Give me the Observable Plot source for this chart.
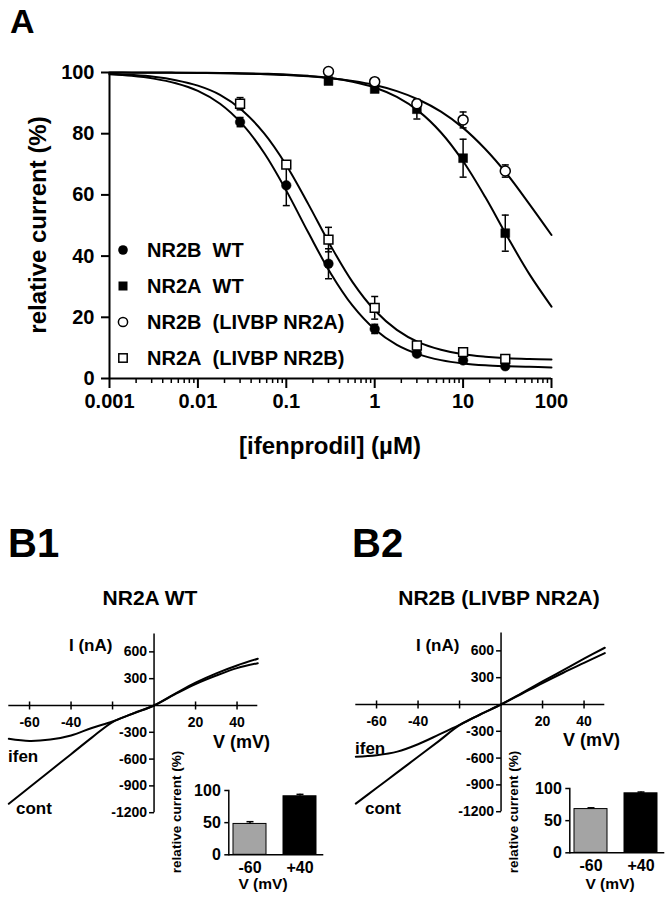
<!DOCTYPE html>
<html><head><meta charset="utf-8">
<script src="https://cdn.jsdelivr.net/npm/d3@7"></script>
<script src="https://cdn.jsdelivr.net/npm/@observablehq/plot@0.6"></script>
<style>
body{margin:0;background:#fff;}
#fig{position:relative;width:671px;height:900px;background:#fff;overflow:hidden;}
#fig > svg{position:absolute;max-width:none;}
</style></head><body><div id="fig"></div>
<script>
const FONT = '"Liberation Sans", Arial, Helvetica, sans-serif';

// ---------- Panel A data ----------
const concs = [0.03, 0.1, 0.3, 1, 3, 10, 30];
const nr2bWT = [83.8, 63.1, 37.5, 16.2, 8.1, 5.9, 4.0];
const nr2bWTErr = [1.5, 6.6, 4.9, 1.5, 0.8, 0.6, 0.5];
const nr2aChim = [89.8, 69.9, 45.4, 23.1, 10.8, 8.6, 6.4];
const nr2aChimErr = [2.0, 1.0, 4.0, 3.7, 1.0, 0.8, 0.5];
const concsHigh = [0.3, 1, 3, 10, 30];
const nr2aWT = [97.2, 94.6, 88.0, 72.0, 47.5];
const nr2aWTErr = [1.0, 1.0, 3.2, 6.2, 5.9];
const nr2bChim = [100.3, 97.0, 89.8, 84.5, 67.8];
const nr2bChimErr = [0.5, 0.5, 1.2, 2.6, 2.0];

// fitted curves
const fitConc = [0.001, 0.00178, 0.00316, 0.00562, 0.01, 0.0178, 0.0316, 0.0562, 0.1, 0.178, 0.316, 0.562, 1, 1.78, 3.16, 5.62, 10, 17.8, 31.6, 56.2, 100];
const fitNR2BWT = [99.4, 98.9, 98.0, 96.5, 94.0, 89.8, 83.2, 73.7, 61.4, 47.6, 34.5, 23.8, 16.1, 11.0, 7.9, 6.0, 4.9, 4.3, 4.0, 3.8, 3.6];
const fitNR2AChim = [99.6, 99.2, 98.6, 97.5, 95.7, 92.7, 87.7, 80.1, 69.7, 56.9, 43.5, 31.5, 22.3, 15.9, 11.8, 9.4, 7.9, 7.1, 6.6, 6.35, 6.2];
const fitNR2AWT = [100, 100, 100, 99.95, 99.9, 99.86, 99.77, 99.6, 99.36, 98.9, 98.2, 97.0, 95.1, 92.0, 87.3, 80.4, 71.0, 59.3, 46.4, 34.1, 23.5];
const fitNR2BChim = [100, 99.95, 99.93, 99.89, 99.84, 99.75, 99.63, 99.45, 99.17, 98.75, 98.14, 97.2, 95.9, 93.9, 91.1, 87.2, 81.9, 75.0, 66.7, 57.0, 46.9];

const yTicksA = [0, 20, 40, 60, 80, 100];
const xMajorTicks = [0.001, 0.01, 0.1, 1, 10, 100];
const xMajorLabels = ["0.001", "0.01", "0.1", "1", "10", "100"];
const xMinorTicks = [0.002,0.003,0.004,0.005,0.006,0.007,0.008,0.009,
  0.02,0.03,0.04,0.05,0.06,0.07,0.08,0.09, 0.2,0.3,0.4,0.5,0.6,0.7,0.8,0.9,
  2,3,4,5,6,7,8,9, 20,30,40,50,60,70,80,90];
const legendNames = ["NR2B\u00a0 WT", "NR2A\u00a0 WT", "NR2B\u00a0 (LIVBP NR2A)", "NR2A\u00a0 (LIVBP NR2B)"];

// ---------- Panel B data ----------
const ivV = [-70, -60, -50, -40, -30, -20, -10, 0, 10, 20, 30, 40, 50];
const b1Cont = [-1100, -915, -730, -545, -360, -185, -90, 0, 130, 256, 360, 448, 523];
const b1Ifen = [-373, -398, -382, -336, -252, -180, -88, 0, 124, 240, 335, 418, 473];
const b2Cont = [-1110, -935, -760, -585, -410, -232, -112, 0, 128, 258, 385, 512, 635];
const b2Ifen = [-585, -568, -528, -445, -338, -228, -110, 0, 120, 240, 355, 465, 575];
const ivXTicks = [-60, -40, -20, 20, 40];
const ivXLabels = [-60, -40, 20, 40];
const ivYTicks = [600, 300, -300, -600, -900, -1200];

const barCats = ["-60", "+40"];
const barFills = ["#a4a4a4", "#000000"];
const b1Bars = [48, 91];
const b1BarErr = [3.5, 3];
const b2Bars = [68, 92.5];
const b2BarErr = [2, 2];

// ---------- helpers ----------
const hline = {draw(ctx, size){const w = Math.sqrt(size/Math.PI); ctx.moveTo(-w,0); ctx.lineTo(w,0);}};
const vline = {draw(ctx, size){const w = Math.sqrt(size/Math.PI); ctx.moveTo(0,-w); ctx.lineTo(0,w);}};
const baseStyle = {fontFamily: FONT, fontWeight: "bold", background: "transparent", color: "black", overflow: "visible"};
const fig = document.getElementById("fig");
function place(el, left, top){ el.style.left = left + "px"; el.style.top = top + "px"; fig.appendChild(el); }

// ---------- Panel A ----------
const pts = [];
function addPts(name, xs, ys, es){ xs.forEach((c,i)=>pts.push({s:name, c, v:ys[i], e:es[i]})); }
addPts("nr2aWT", concsHigh, nr2aWT, nr2aWTErr);
addPts("nr2bChim", concsHigh, nr2bChim, nr2bChimErr);
addPts("nr2bWT", concs, nr2bWT, nr2bWTErr);
addPts("nr2aChim", concs, nr2aChim, nr2aChimErr);
const fits = [];
[["a",fitNR2BWT],["b",fitNR2AChim],["c",fitNR2AWT],["d",fitNR2BChim]].forEach(([k,arr]) =>
  fitConc.forEach((c,i)=>fits.push({s:k, c, v:arr[i]})));
const labelMap = new Map(xMajorTicks.map((t,i)=>[t, xMajorLabels[i]]));
const sel = s => pts.filter(d => d.s === s);

const plotA = Plot.plot({
  width: 671, height: 420,
  marginLeft: 109, marginRight: 120, marginTop: 72, marginBottom: 42,
  x: {type: "log", domain: [0.001, 100]},
  y: {domain: [0, 100]},
  style: baseStyle,
  marks: [
    Plot.ruleX([0.001], {y1: 0, y2: 100, strokeWidth: 2}),
    Plot.ruleY([0], {x1: 0.001, x2: 100, strokeWidth: 2}),
    Plot.axisY({ticks: yTicksA, tickSize: 8, tickPadding: 7, tickFormat: d => String(d), fontSize: 20, fontWeight: "bold", strokeWidth: 2, label: null}),
    Plot.axisX({ticks: xMinorTicks, tickSize: 5, tickFormat: () => "", strokeWidth: 1.5, label: null}),
    Plot.axisX({ticks: xMajorTicks, tickSize: 10, tickPadding: 5, tickFormat: d => labelMap.get(d), fontSize: 20, fontWeight: "bold", strokeWidth: 2, label: null}),
    Plot.line(fits, {x: "c", y: "v", z: "s", curve: "catmull-rom", strokeWidth: 2}),
    Plot.ruleX(pts, {x: "c", y1: d => d.v - d.e, y2: d => d.v + d.e, strokeWidth: 1.5}),
    Plot.dot(pts, {x: "c", y: d => d.v + d.e, symbol: hline, r: 3.5, fill: "none", stroke: "black", strokeWidth: 1.5}),
    Plot.dot(pts, {x: "c", y: d => d.v - d.e, symbol: hline, r: 3.5, fill: "none", stroke: "black", strokeWidth: 1.5}),
    Plot.dot(sel("nr2aWT"), {x: "c", y: "v", symbol: "square", r: 5, fill: "black", stroke: "black", strokeWidth: 0.5}),
    Plot.dot(sel("nr2bChim"), {x: "c", y: "v", symbol: "circle", r: 5, fill: "white", stroke: "black", strokeWidth: 1.5}),
    Plot.dot(sel("nr2bWT"), {x: "c", y: "v", symbol: "circle", r: 4.8, fill: "black", stroke: "black", strokeWidth: 0.5}),
    Plot.dot(sel("nr2aChim"), {x: "c", y: "v", symbol: "square", r: 5, fill: "white", stroke: "black", strokeWidth: 1.5})
  ]
});
place(plotA, 0, 0);

// ---------- Panel B IV plots ----------
function ivPlot(cont, ifen){
  const rows = [...ivV.map((v,i)=>({v, i: cont[i], s: "cont"})), ...ivV.map((v,i)=>({v, i: ifen[i], s: "ifen"}))];
  return Plot.plot({
    width: 300, height: 200,
    marginLeft: 8.3, marginRight: 42.7, marginTop: 13.5, marginBottom: 7.8,
    x: {domain: [-70, 50], axis: null},
    y: {domain: [-1200, 800], axis: null},
    style: baseStyle,
    marks: [
      Plot.ruleY([0], {strokeWidth: 1.5}),
      Plot.ruleX([0], {strokeWidth: 1.5}),
      Plot.dot(ivXTicks, {x: d => d, y: () => 0, symbol: vline, r: 4, fill: "none", stroke: "black", strokeWidth: 1.5}),
      Plot.dot(ivYTicks, {x: () => 0, y: d => d, symbol: hline, r: 2.5, dx: -2.5, fill: "none", stroke: "black", strokeWidth: 1.5}),
      Plot.text(ivXLabels, {x: d => d, y: () => 0, dy: 17, text: d => String(d), fontSize: 14, fontWeight: "bold"}),
      Plot.text(ivYTicks, {x: () => 0, y: d => d, dx: -7, textAnchor: "end", text: d => String(d), fontSize: 14, fontWeight: "bold"}),
      Plot.line(rows, {x: "v", y: "i", z: "s", curve: "catmull-rom", strokeWidth: 2})
    ]
  });
}
place(ivPlot(b1Cont, b1Ifen), 0, 620);
place(ivPlot(b2Cont, b2Ifen), 346.7, 619);

// ---------- Insets ----------
function barPlot(vals, errs){
  const rows = barCats.map((c,i)=>({c, v: vals[i], e: errs[i]}));
  return Plot.plot({
    width: 160, height: 140,
    marginLeft: 58.3, marginRight: 6.7, marginTop: 30, marginBottom: 45.7,
    x: {domain: barCats, range: [58.3, 150.3], paddingInner: 0.35, paddingOuter: 0.08},
    y: {domain: [0, 100]},
    color: {domain: barCats, range: barFills},
    style: baseStyle,
    marks: [
      Plot.barY(rows, {x: "c", y: "v", fill: "c", stroke: "black", strokeWidth: 1}),
      Plot.ruleX(rows, {x: "c", y1: "v", y2: d => d.v + d.e, strokeWidth: 1.5}),
      Plot.dot(rows, {x: "c", y: d => d.v + d.e, symbol: hline, r: 3.5, fill: "none", stroke: "black", strokeWidth: 1.5}),
      Plot.ruleY([0], {strokeWidth: 1.5}),
      Plot.frame({anchor: "left", strokeWidth: 1.5}),
      Plot.axisY({ticks: [0, 50, 100], tickSize: 4, tickPadding: 4, fontSize: 16, fontWeight: "bold", strokeWidth: 1.5, label: null}),
      Plot.axisX({tickSize: 0, tickPadding: 7, fontSize: 16, fontWeight: "bold", label: null})
    ]
  });
}
place(barPlot(b1Bars, b1BarErr), 170, 760);
place(barPlot(b2Bars, b2BarErr), 511, 758.3);

// ---------- Text overlay ----------
const ov = d3.create("svg").attr("width", 671).attr("height", 900)
  .style("position", "absolute").style("left", "0px").style("top", "0px")
  .style("font-family", FONT).style("font-weight", "bold").style("pointer-events", "none");
function txt(s, x, y, size, anchor = "start", rot = false){
  const t = ov.append("text").text(s).attr("font-size", size).attr("text-anchor", anchor)
    .attr("dominant-baseline", "central").attr("fill", "black");
  if (rot) t.attr("transform", `translate(${x},${y}) rotate(-90)`); else t.attr("x", x).attr("y", y);
}
txt("A", 10, 21, 34);
txt("relative current (%)", 37, 225, 24, "middle", true);
txt("[ifenprodil] (\u00b5M)", 330, 445, 24, "middle");
const legY = [250, 286, 322, 358];
legendNames.forEach((n,i)=> txt(n, 147, legY[i], 20));
ov.append("circle").attr("cx", 123).attr("cy", legY[0]).attr("r", 4.8).attr("fill", "black");
ov.append("rect").attr("x", 118.5).attr("y", legY[1]-4.5).attr("width", 9).attr("height", 9).attr("fill", "black");
ov.append("circle").attr("cx", 123).attr("cy", legY[2]).attr("r", 4.6).attr("fill", "white").attr("stroke", "black").attr("stroke-width", 1.5);
ov.append("rect").attr("x", 118.8).attr("y", legY[3]-4.2).attr("width", 8.4).attr("height", 8.4).attr("fill", "white").attr("stroke", "black").attr("stroke-width", 1.5);

txt("B1", 8, 543, 40);
txt("B2", 352, 543, 40);
txt("NR2A WT", 150, 597, 21, "middle");
txt("NR2B (LIVBP NR2A)", 499, 597, 21, "middle");
txt("I (nA)", 69, 645, 17);
txt("V (mV)", 213, 742, 18);
txt("ifen", 8, 756, 17);
txt("cont", 16, 808, 17);
txt("I (nA)", 416, 645, 17);
txt("V (mV)", 563, 740, 18);
txt("ifen", 355, 748, 17);
txt("cont", 365, 808, 17);
txt("relative current (%)", 176, 812, 13.5, "middle", true);
txt("V (mV)", 263, 883, 15.5, "middle");
txt("relative current (%)", 513, 812, 13.5, "middle", true);
txt("V (mV)", 610, 883, 15.5, "middle");
fig.appendChild(ov.node());
</script></body></html>
